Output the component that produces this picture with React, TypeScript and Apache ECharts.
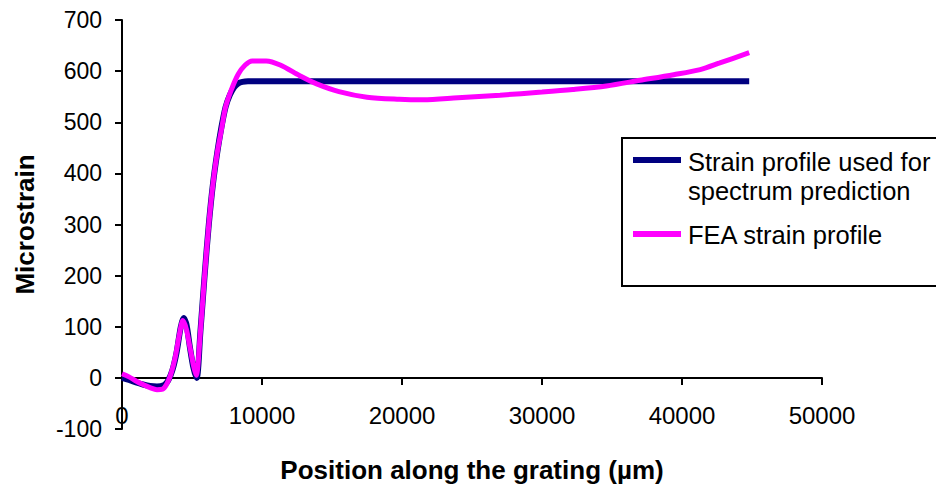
import React, { useEffect, useRef } from "react";
import * as echarts from "echarts";

// Strain profile used for spectrum prediction
const usedX = [0, 500, 1000, 1500, 2000, 2500, 3000, 3300, 3600, 3900, 4200, 4400, 4600, 4850, 5100, 5330, 5600, 5900, 6200, 6500, 6800, 7100, 7400, 7700, 8000, 8300, 8600, 9000, 10000, 44800];
const usedY = [0, -4, -9, -13, -16, -17, -14, -5, 15, 50, 100, 117, 105, 60, 20, 0, 90, 200, 300, 380, 440, 490, 530, 553, 568, 576, 579, 580, 580, 580];

// FEA strain profile
const feaX = [0, 500, 1000, 1500, 2000, 2500, 2900, 3200, 3500, 3800, 4100, 4350, 4600, 4850, 5100, 5300, 5600, 5900, 6200, 6500, 6800, 7100, 7400, 7800, 8300, 8800, 9300, 10300, 11300, 12700, 13900, 15500, 17500, 19800, 21500, 24000, 27000, 30000, 32200, 34600, 37000, 39400, 41300, 42700, 44800];
const feaY = [8, 2, -6, -13, -19, -23, -22, -12, 8, 40, 85, 112, 95, 60, 25, 5, 90, 200, 300, 380, 440, 485, 530, 563, 594, 612, 620, 620, 612, 591, 575, 560, 549, 545, 544, 548, 553, 559, 564, 571, 582, 593, 603, 616, 636];

const xTicks = { min: 0, max: 50000, interval: 10000 };
const yTicks = { min: -100, max: 700, interval: 100 };

const seriesNames = ["Strain profile used for\nspectrum prediction", "FEA strain profile"];
const legendLines = ["Strain profile used for", "spectrum prediction", "FEA strain profile"];

const FONT = 'Arial, "Liberation Sans", sans-serif';

export default function App() {
  const ref = useRef<HTMLDivElement>(null);
  useEffect(() => {
    document.body.style.margin = "0";
    const chart = echarts.init(ref.current!, null, { renderer: "svg" });
    const used = usedX.map((x, i) => [x, usedY[i]]);
    const fea = feaX.map((x, i) => [x, feaY[i]]);
    chart.setOption({
      animation: false,
      backgroundColor: "#fff",
      textStyle: { fontFamily: FONT },
      grid: { left: 122, right: 114, top: 20, bottom: 64, containLabel: false, outerBoundsMode: "none" },
      xAxis: {
        type: "value",
        min: xTicks.min,
        max: xTicks.max,
        interval: xTicks.interval,
        name: "Position along the grating (µm)",
        nameLocation: "middle",
        nameGap: 28,
        nameTextStyle: { fontSize: 26, fontWeight: "bold", color: "#000", fontFamily: FONT },
        axisLine: { show: true, onZero: true, lineStyle: { color: "#000", width: 2 } },
        axisTick: { show: true, length: 7, inside: false, lineStyle: { color: "#000", width: 2 } },
        axisLabel: { fontSize: 24, color: "#000", margin: -26, fontFamily: FONT, formatter: (v: number) => String(v) },
        splitLine: { show: false },
      },
      yAxis: {
        type: "value",
        min: yTicks.min,
        max: yTicks.max,
        interval: yTicks.interval,
        name: "Microstrain",
        nameLocation: "middle",
        nameGap: 84,
        nameRotate: 90,
        nameTextStyle: { fontSize: 26, fontWeight: "bold", color: "#000", fontFamily: FONT },
        axisLine: { show: true, onZero: false, lineStyle: { color: "#000", width: 2 } },
        axisTick: { show: true, length: 7, inside: false, lineStyle: { color: "#000", width: 2 } },
        axisLabel: { fontSize: 23, color: "#000", margin: 20, fontFamily: FONT },
        splitLine: { show: false },
      },
      series: [
        {
          name: seriesNames[0],
          type: "line",
          data: used,
          showSymbol: false,
          smooth: 0.3,
          lineStyle: { color: "#000080", width: 6 },
          itemStyle: { color: "#000080" },
          z: 2,
        },
        {
          name: seriesNames[1],
          type: "line",
          data: fea,
          showSymbol: false,
          smooth: 0.3,
          lineStyle: { color: "#FF00FF", width: 5 },
          itemStyle: { color: "#FF00FF" },
          z: 3,
        },
      ],
      graphic: [
        {
          type: "group",
          z: 100,
          children: [
            {
              type: "rect",
              shape: { x: 622, y: 138, width: 340, height: 148 },
              style: { fill: "#fff", stroke: "#000", lineWidth: 2 },
            },
            {
              type: "line",
              shape: { x1: 633, y1: 160, x2: 681, y2: 160 },
              style: { stroke: "#000080", lineWidth: 6 },
            },
            {
              type: "line",
              shape: { x1: 633, y1: 234, x2: 681, y2: 234 },
              style: { stroke: "#FF00FF", lineWidth: 6 },
            },
            {
              type: "text",
              x: 688,
              y: 162,
              style: { text: legendLines[0], font: `25.5px ${FONT}`, fill: "#000", verticalAlign: "middle", align: "left" },
            },
            {
              type: "text",
              x: 688,
              y: 191,
              style: { text: legendLines[1], font: `25.5px ${FONT}`, fill: "#000", verticalAlign: "middle", align: "left" },
            },
            {
              type: "text",
              x: 688,
              y: 235,
              style: { text: legendLines[2], font: `25.5px ${FONT}`, fill: "#000", verticalAlign: "middle", align: "left" },
            },
          ],
        },
      ],
    });
    return () => chart.dispose();
  }, []);
  return <div ref={ref} style={{ position: "absolute", left: 0, top: 0, width: 936, height: 493 }} />;
}
